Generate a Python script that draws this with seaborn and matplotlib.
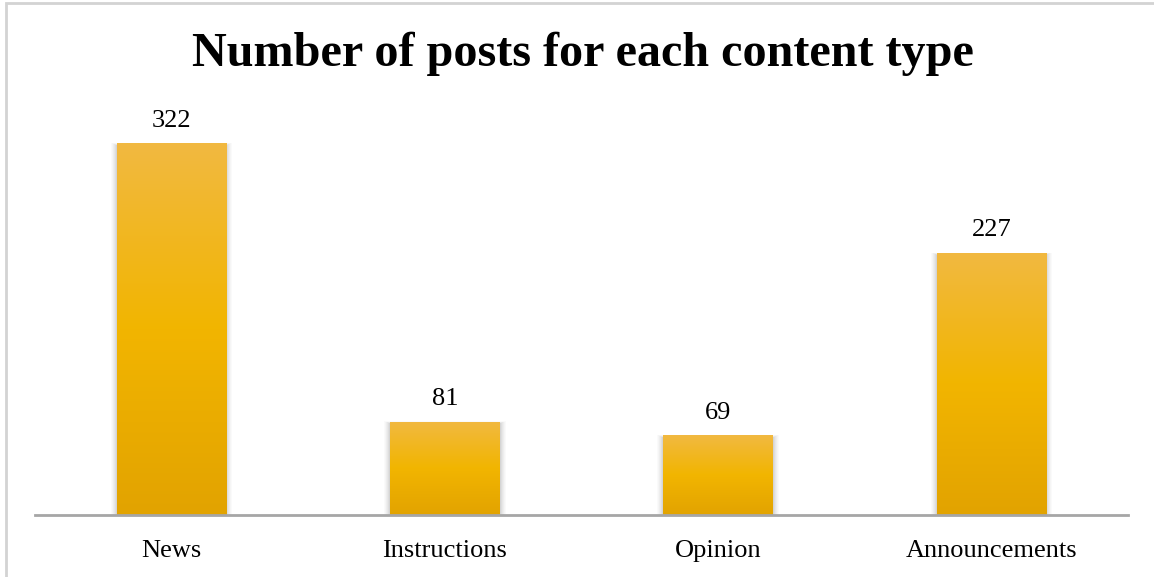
import numpy as np
import pandas as pd
import matplotlib
matplotlib.use("Agg")
import matplotlib.pyplot as plt
from matplotlib.colors import LinearSegmentedColormap
from matplotlib.patches import Rectangle
import seaborn as sns

categories = ["News", "Instructions", "Opinion", "Announcements"]
post_counts = [322, 81, 69, 227]
title_text = "Number of posts for each content type"

sns.set_theme(style="white")
plt.rcParams["font.family"] = ["Liberation Serif", "DejaVu Serif"]

df = pd.DataFrame({"content_type": categories, "posts": post_counts})

fig = plt.figure(figsize=(11.54, 5.77), dpi=100)
ax = fig.add_axes([35 / 1154, 62 / 577, 1093 / 1154, 404 / 577])

sns.barplot(data=df, x="content_type", y="posts", color="#F2B600",
            width=0.40, ax=ax, zorder=3)

ax.set_xlim(-0.5, len(categories) - 0.5)
ax.set_ylim(0, 350)

# vertical gold gradient, lighter at the top and deeper at the base
gold = LinearSegmentedColormap.from_list(
    "gold", ["#E2A300", "#F2B500", "#F1B941"])
grad = np.linspace(0, 1, 256).reshape(-1, 1)

px_x = (len(categories)) / 1093
px_y = 350 / 404
for patch in list(ax.patches):
    x0, y0 = patch.get_x(), patch.get_y()
    w, h = patch.get_width(), patch.get_height()
    # soft shadow around the bar
    for i, a in zip(range(6, 0, -1), [0.03, 0.04, 0.05, 0.06, 0.08, 0.10]):
        ax.add_patch(Rectangle((x0 - i * px_x, y0 - 2 * px_y),
                               w + 2 * i * px_x, h + i * 0.4 * px_y,
                               facecolor="#7f7f7f", edgecolor="none",
                               alpha=a, zorder=2))
    patch.set_facecolor("none")
    patch.set_edgecolor("none")
    img = ax.imshow(grad, cmap=gold, origin="lower", aspect="auto",
                    extent=[x0, x0 + w, y0, y0 + h], zorder=3)
    img.set_clip_path(patch)

ax.set_xlim(-0.5, len(categories) - 0.5)
ax.set_ylim(0, 350)

for i, v in enumerate(post_counts):
    ax.text(i, v + 10, str(v), ha="center", va="bottom",
            fontsize=19, color="#000000")

for s in ["top", "right", "left"]:
    ax.spines[s].set_visible(False)
ax.spines["bottom"].set_color("#a6a6a6")
ax.spines["bottom"].set_linewidth(2)
ax.spines["bottom"].set_zorder(4)
ax.set_yticks([])
ax.set_xlabel("")
ax.set_ylabel("")
ax.tick_params(axis="x", length=0, pad=18, labelsize=19, colors="#000000")

fig.text(583 / 1154, 1 - 54 / 577, title_text, ha="center", va="center",
         fontsize=34.7, fontweight="bold", color="#000000")

# thin light frame around the chart area
frame = Rectangle((5.5 / 1154, -0.01), 1.02, 1 - 3 / 577 + 0.01,
                  transform=fig.transFigure, fill=False,
                  edgecolor="#d3d3d3", linewidth=2, clip_on=False)
fig.patches.append(frame)

fig.savefig("out.png", dpi=100, facecolor="white")
